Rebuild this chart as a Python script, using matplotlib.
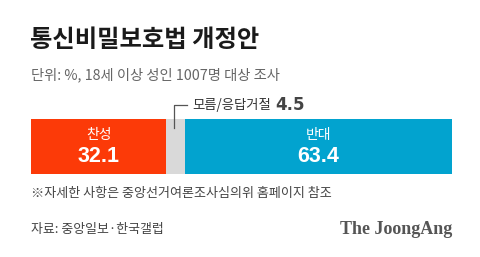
import matplotlib
matplotlib.use("Agg")
import matplotlib.pyplot as plt

plt.rcParams['font.family'] = ['Noto Sans CJK KR', 'DejaVu Sans']

categories = ["찬성", "모름/응답거절", "반대"]
values = [32.1, 4.5, 63.4]
colors = ["#fc3a08", "#d9d9d9", "#02a3cf"]

title = "통신비밀보호법 개정안"
subtitle = "단위: %, 18세 이상 성인 1007명 대상 조사"
note = "※자세한 사항은 중앙선거여론조사심의위 홈페이지 참조"
source = "자료: 중앙일보·한국갤럽"
brand = "The JoongAng"

W, H = 480, 257
fig = plt.figure(figsize=(W / 100, H / 100), dpi=100)
fig.patch.set_facecolor("white")

def px(x, y):
    return x / W, 1 - y / H

# bar axes
bx0, bx1, by0, by1 = 31, 452, 119.3, 174.3
ax = fig.add_axes([bx0 / W, 1 - by1 / H, (bx1 - bx0) / W, (by1 - by0) / H])
left = 0
mids = []
for v, c in zip(values, colors):
    ax.barh(0, v, left=left, height=1, color=c, edgecolor="none")
    mids.append(left + v / 2)
    left += v
ax.set_xlim(0, sum(values))
ax.set_ylim(-0.5, 0.5)
ax.axis("off")

for i in (0, 2):
    ax.text(mids[i], 0.5 - (135 - by0) / (by1 - by0), categories[i], ha="center", va="center",
            color="white", fontsize=10, fontweight="medium")
    ax.text(mids[i], 0.5 - (157 - by0) / (by1 - by0), f"{values[i]}", ha="center", va="center",
            color="white", fontsize=15.5, fontweight="bold",
            family=["Liberation Sans", "DejaVu Sans"])

# leader line for gray segment
lx = ax.transData.transform((mids[1] - 0.3, 0))[0] / fig.dpi / fig.get_size_inches()[0]
fig.add_artist(plt.Line2D([lx, lx, px(187, 0)[0]], [px(0, 128)[1], px(0, 105)[1], px(0, 105)[1]],
                          color="#555555", lw=0.9))
fig.text(*px(192, 104.5), categories[1], ha="left", va="center", fontsize=9.6, color="#333333")
fig.text(*px(275, 104.5), f"{values[1]}", ha="left", va="center", fontsize=12,
         fontweight="bold", color="#444444", family=["DejaVu Sans"])

fig.text(*px(30, 40), title, ha="left", va="center", fontsize=17.5, fontweight="black", color="#1a1a1a")
fig.text(*px(31, 75), subtitle, ha="left", va="center", fontsize=10.3, color="#666666")
fig.text(*px(31, 193), note, ha="left", va="center", fontsize=9.4, color="#444444")
fig.text(*px(31, 229), source, ha="left", va="center", fontsize=9.3, color="#444444")
fig.text(*px(452, 229), brand, ha="right", va="center", fontsize=13, fontweight="bold",
         color="#555555", family=["Liberation Serif", "DejaVu Serif"])

fig.savefig("out.png", dpi=100, facecolor="white")
